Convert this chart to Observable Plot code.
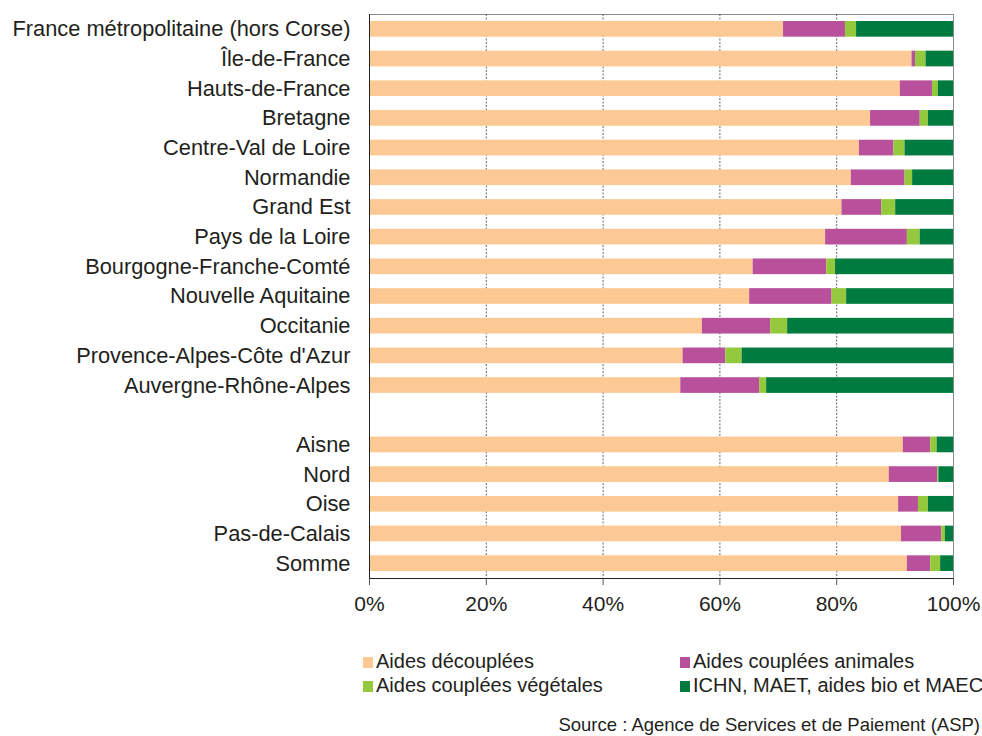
<!DOCTYPE html>
<html>
<head>
<meta charset="utf-8">
<script src="https://cdn.jsdelivr.net/npm/d3@7"></script>
<script src="https://cdn.jsdelivr.net/npm/@observablehq/plot@0.6"></script>
<style>
  html, body { margin: 0; padding: 0; background: #fff; }
  #wrap { position: relative; width: 982px; height: 736px; font-family: "Liberation Sans", Arial, Helvetica, sans-serif; color: #231f20; }
  #chart { position: absolute; left: 0; top: 0; }
  .lg { position: absolute; font-size: 20px; line-height: 20px; white-space: nowrap; }
  .sw { position: absolute; width: 10px; height: 11px; }
  #src { position: absolute; right: 2px; top: 716px; font-size: 18.5px; line-height: 18.5px; white-space: nowrap; }
</style>
</head>
<body>
<div id="wrap">
  <div id="chart"></div>
  <div id="legend"></div>
  <div id="src">Source : Agence de Services et de Paiement (ASP)</div>
</div>
<script>
// Categories (top to bottom); " " is the spacer row between regions and departments
const regions = [
  "France métropolitaine (hors Corse)", "Île-de-France", "Hauts-de-France", "Bretagne",
  "Centre-Val de Loire", "Normandie", "Grand Est", "Pays de la Loire",
  "Bourgogne-Franche-Comté", "Nouvelle Aquitaine", "Occitanie",
  "Provence-Alpes-Côte d'Azur", "Auvergne-Rhône-Alpes"
];
const departements = ["Aisne", "Nord", "Oise", "Pas-de-Calais", "Somme"];
const spacer = " ";

// Series names and colours
const series = ["Aides découplées", "Aides couplées animales", "Aides couplées végétales", "ICHN, MAET, aides bio et MAEC"];
const colors = ["#fcc995", "#b8509b", "#95c93d", "#007b3f"];

// Shares (%) in the same order as regions then departements
const decouplees = [70.9, 92.9, 90.9, 85.8, 83.9, 82.5, 80.9, 78.1, 65.7, 65.1, 57.0, 53.7, 53.3, 91.4, 89.0, 90.6, 91.1, 92.1];
const animales   = [10.6,  0.6,  5.5,  8.5,  5.9,  9.2,  6.8, 14.0, 12.6, 14.1, 11.7,  7.3, 13.5,  4.7,  8.3,  3.4,  6.9,  4.0];
const vegetales  = [ 1.9,  1.8,  1.0,  1.4,  1.9,  1.3,  2.4,  2.2,  1.5,  2.5,  2.9,  2.8,  1.2,  1.1,  0.2,  1.7,  0.6,  1.7];
const ichn       = [16.6,  4.7,  2.6,  4.3,  8.3,  7.0,  9.9,  5.7, 20.2, 18.3, 28.4, 36.2, 32.0,  2.8,  2.5,  4.3,  1.4,  2.2];

const xTicks = [0, 20, 40, 60, 80, 100];
const gridTicks = [20, 40, 60, 80];

const rowNames = [...regions, ...departements];
const seriesValues = [decouplees, animales, vegetales, ichn];
const table = [];
rowNames.forEach((name, i) => {
  series.forEach((s, j) => table.push({name, series: s, value: seriesValues[j][i]}));
});
const yDomain = [...regions, spacer, ...departements];

const chart = Plot.plot({
  width: 982,
  height: 630,
  marginTop: 14,
  marginBottom: 52,
  marginLeft: 369,
  marginRight: 29,
  style: {fontFamily: '"Liberation Sans", Arial, Helvetica, sans-serif', color: "#231f20", background: "#fff"},
  x: {domain: [0, 100], label: null},
  y: {type: "band", domain: yDomain, padding: 0, round: false, label: null},
  color: {domain: series, range: colors},
  marks: [
    Plot.frame({stroke: "#8a8a8a", strokeWidth: 1}),
    Plot.gridX(gridTicks, {stroke: "#666", strokeOpacity: 1, strokeDasharray: "2,1.5", strokeWidth: 1}),
    Plot.barX(table, Plot.stackX({x: "value", y: "name", fill: "series", insetTop: 7, insetBottom: 7})),
    Plot.ruleX([0], {stroke: "#222", strokeWidth: 1}),
    Plot.frame({anchor: "bottom", stroke: "#222", strokeWidth: 1.2}),
    Plot.axisY({tickSize: 0, tickPadding: 19, fontSize: 21.8, label: null, tickFormat: d => d.trim()}),
    Plot.axisX(xTicks, {tickSize: 7, tickPadding: 11, fontSize: 21, stroke: "#555", label: null, tickFormat: d => d + "%"})
  ]
});
document.getElementById("chart").appendChild(chart);

// Legend (HTML, below the SVG)
const legendPos = [
  {sx: 363, sy: 657, tx: 376, ty: 651},
  {sx: 680, sy: 657, tx: 693, ty: 651},
  {sx: 363, sy: 681, tx: 376, ty: 675},
  {sx: 680, sy: 681, tx: 693, ty: 675}
];
const legend = document.getElementById("legend");
series.forEach((s, i) => {
  const p = legendPos[i];
  const sw = document.createElement("div");
  sw.className = "sw";
  sw.style.left = p.sx + "px"; sw.style.top = p.sy + "px"; sw.style.background = colors[i];
  legend.appendChild(sw);
  const t = document.createElement("div");
  t.className = "lg";
  t.style.left = p.tx + "px"; t.style.top = p.ty + "px";
  t.textContent = s;
  legend.appendChild(t);
});
</script>
</body>
</html>
